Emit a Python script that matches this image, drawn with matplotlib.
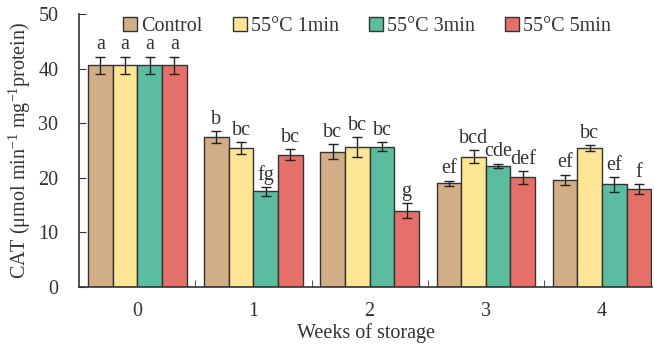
import matplotlib
matplotlib.use("Agg")
import matplotlib.pyplot as plt
import numpy as np

plt.rcParams['font.family'] = ['Liberation Serif', 'DejaVu Serif']
plt.rcParams['mathtext.default'] = 'regular'

weeks = ['0', '1', '2', '3', '4']
treatments = ['Control', '55°C 1min', '55°C 3min', '55°C 5min']
colors = ['#D2AE87', '#FDE596', '#5CBCA0', '#E5706A']

# CAT activity per treatment, weeks 0-4
cat_control = [40.6, 27.5, 24.8, 19.0, 19.6]
cat_1min = [40.6, 25.4, 25.6, 23.9, 25.5]
cat_3min = [40.6, 17.5, 25.7, 22.2, 18.8]
cat_5min = [40.6, 24.2, 14.0, 20.1, 17.9]

err_control = [1.6, 1.1, 1.3, 0.5, 1.0]
err_1min = [1.6, 1.1, 1.8, 1.2, 0.5]
err_3min = [1.6, 0.8, 0.8, 0.4, 1.4]
err_5min = [1.6, 1.0, 1.3, 1.2, 0.9]

let_control = ['a', 'b', 'bc', 'ef', 'ef']
let_1min = ['a', 'bc', 'bc', 'bcd', 'bc']
let_3min = ['a', 'fg', 'bc', 'cde', 'ef']
let_5min = ['a', 'bc', 'g', 'def', 'f']

values = [cat_control, cat_1min, cat_3min, cat_5min]
errors = [err_control, err_1min, err_3min, err_5min]
letters = [let_control, let_1min, let_3min, let_5min]

fig = plt.figure(figsize=(6.54, 3.5), dpi=100)
ax = fig.add_axes([0.121, 0.18, 0.876, 0.78])

x = np.arange(len(weeks))
w = 0.212
txt = '#333333'
fs = 14.5
for i in range(4):
    pos = x + (i - 1.5) * w
    ax.bar(pos, values[i], w, color=colors[i], edgecolor='#333333', linewidth=1.0,
           label=treatments[i], yerr=errors[i],
           error_kw=dict(ecolor='#222222', elinewidth=1.0, capsize=3.5, capthick=1.0))
    for j in range(len(weeks)):
        ax.text(pos[j], values[i][j] + errors[i][j] + 0.4, letters[i][j],
                ha='center', va='bottom', fontsize=fs, color=txt)

ax.set_xlim(-0.5, 4.43)
ax.set_ylim(0, 50)
ax.set_yticks([0, 10, 20, 30, 40, 50])
ax.set_xticks(x)
ax.set_xticklabels(weeks)
ax.set_xticks([0.5, 1.5, 2.5, 3.5], minor=True)
ax.tick_params(axis='x', which='major', length=0, pad=11, labelsize=fs, labelcolor=txt)
ax.tick_params(axis='x', which='minor', direction='in', length=5, color='#333333')
ax.tick_params(axis='y', direction='in', length=5, labelsize=fs, labelcolor=txt, color='#333333', pad=15)
for s in ['top', 'right']:
    ax.spines[s].set_visible(False)
for s in ['left', 'bottom']:
    ax.spines[s].set_color('#333333')
    ax.spines[s].set_linewidth(1.2)

ax.set_xlabel('Weeks of storage', fontsize=fs, color=txt, labelpad=1)
ax.set_ylabel('CAT (μmol min$^{-1}$ mg$^{-1}$protein)', fontsize=fs, color=txt, labelpad=4)

ax.legend(loc='upper left', bbox_to_anchor=(0.045, 1.055), ncol=4, frameon=False,
          fontsize=fs, handlelength=0.7, handleheight=0.7, handletextpad=0.2,
          columnspacing=1.5, labelcolor=txt)

fig.savefig('out.png', dpi=100)
